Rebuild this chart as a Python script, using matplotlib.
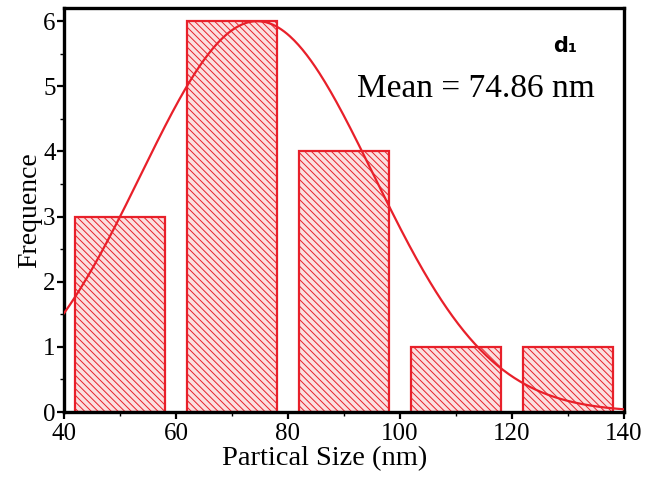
import numpy as np
import matplotlib
matplotlib.use("Agg")
import matplotlib.pyplot as plt
from matplotlib.ticker import MultipleLocator

# Data
bin_left = [42, 62, 82, 102, 122]
bin_right = [58, 78, 98, 118, 138]
counts = [3, 6, 4, 1, 1]
fit_amplitude = 6.0
fit_center = 74.5
fit_sigma = 20.8
x_ticks = [40, 60, 80, 100, 120, 140]
y_ticks = [0, 1, 2, 3, 4, 5, 6]

plt.rcParams['font.family'] = ['Liberation Serif', 'DejaVu Serif']
plt.rcParams['hatch.linewidth'] = 0.7
plt.rcParams['hatch.color'] = '#e8202a'

fig = plt.figure(figsize=(6.48, 4.78), dpi=100)
ax = fig.add_axes([0.0988, 0.138, 0.864, 0.845])

centers = [(a + b) / 2 for a, b in zip(bin_left, bin_right)]
widths = [b - a for a, b in zip(bin_left, bin_right)]
ax.bar(centers, counts, width=widths, facecolor='#fbe0e0', edgecolor='#e8202a',
       linewidth=1.6, hatch='\\\\\\\\\\', zorder=2)

xs = np.linspace(40, 140, 400)
ys = fit_amplitude * np.exp(-(xs - fit_center) ** 2 / (2 * fit_sigma ** 2))
ax.plot(xs, ys, color='#e8202a', linewidth=1.6, zorder=3)

ax.set_xlim(40, 140)
ax.set_ylim(0, 6.2)
ax.set_xticks(x_ticks)
ax.set_yticks(y_ticks)
ax.xaxis.set_minor_locator(MultipleLocator(10))
ax.yaxis.set_minor_locator(MultipleLocator(0.5))
ax.tick_params(axis='both', which='major', direction='out', length=5, width=1.6,
               labelsize=18)
ax.tick_params(axis='x', which='major', pad=3)
ax.tick_params(axis='y', which='major', pad=1)
ax.tick_params(axis='both', which='minor', direction='out', length=3, width=1.0)
for s in ax.spines.values():
    s.set_linewidth(2.4)

ax.set_xlabel('Partical Size (nm)', fontsize=20.5)
ax.xaxis.set_label_coords(0.466, -0.085)
ax.set_ylabel('Frequence', fontsize=20, labelpad=1)

ax.text(0.895, 0.905, 'd₁', transform=ax.transAxes, fontsize=15, fontweight='bold',
        family=['DejaVu Sans'], ha='center', va='center')
ax.text(0.948, 0.8, 'Mean = 74.86 nm', transform=ax.transAxes, fontsize=24,
        ha='right', va='center')

fig.savefig('out.png', dpi=100)
